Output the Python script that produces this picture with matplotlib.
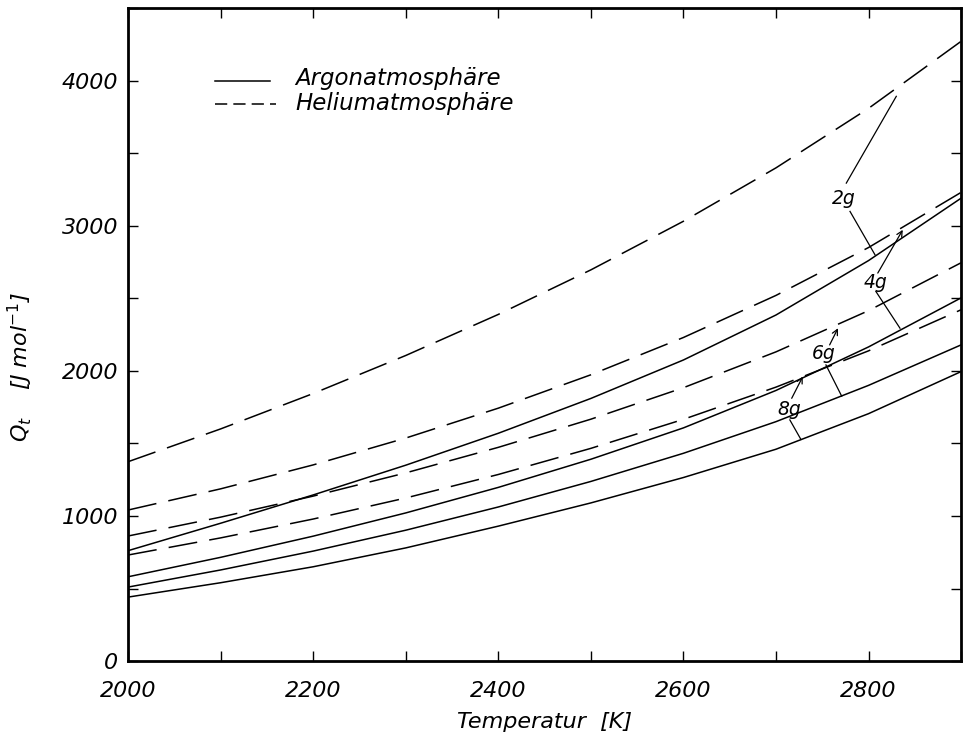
import matplotlib
matplotlib.use("Agg")
import matplotlib.pyplot as plt
from matplotlib.ticker import MultipleLocator
import numpy as np

plt.rcParams['font.family'] = ['DejaVu Sans']
plt.rcParams['mathtext.fontset'] = 'dejavusans'

# Temperature grid [K]
temperature = [2000, 2100, 2200, 2300, 2400, 2500, 2600, 2700, 2800, 2900]

# Helium atmosphere, sample masses 2 g .. 8 g  [J/mol]
he_2g = [1374, 1600, 1844, 2106, 2389, 2696, 3031, 3399, 3809, 4271]
he_4g = [1041, 1187, 1352, 1537, 1743, 1973, 2230, 2520, 2850, 3230]
he_6g = [862, 992, 1137, 1297, 1473, 1667, 1884, 2131, 2415, 2745]
he_8g = [731, 849, 979, 1124, 1286, 1466, 1666, 1888, 2138, 2421]

# Argon atmosphere
ar_2g = [761, 950, 1145, 1350, 1570, 1810, 2075, 2385, 2760, 3190]
ar_4g = [581, 715, 861, 1021, 1197, 1391, 1607, 1865, 2165, 2503]
ar_6g = [510, 628, 758, 902, 1062, 1238, 1432, 1650, 1900, 2179]
ar_8g = [441, 540, 650, 780, 930, 1090, 1265, 1460, 1705, 1995]

x_ticks = [2000, 2200, 2400, 2600, 2800]
y_ticks = [0, 1000, 2000, 3000, 4000]

fig = plt.figure(figsize=(9.63, 7.37), dpi=100)
ax = fig.add_axes([0.133, 0.103, 0.865, 0.886])

T = np.array(temperature)
lw = 1.1
dash = (0, (19, 8))
for series in (he_2g, he_4g, he_6g, he_8g):
    ax.plot(T, series, color='black', lw=lw, linestyle=dash)
for series in (ar_2g, ar_4g, ar_6g, ar_8g):
    ax.plot(T, series, color='black', lw=lw, linestyle='-')

ax.set_xlim(2000, 2900)
ax.set_ylim(0, 4500)
ax.set_xticks(x_ticks)
ax.xaxis.set_minor_locator(MultipleLocator(100))
ax.set_yticks(y_ticks)
ax.yaxis.set_minor_locator(MultipleLocator(500))

tick_font = dict(fontsize=16, fontstyle='italic')
ax.set_xticklabels([str(v) for v in x_ticks], **tick_font)
ax.set_yticklabels([str(v) for v in y_ticks], **tick_font)
ax.tick_params(which='both', direction='in', top=True, right=True,
               length=7, width=1.0)
ax.tick_params(axis='x', which='major', pad=14)
ax.tick_params(axis='y', which='major', pad=7)

for sp in ax.spines.values():
    sp.set_linewidth(2.0)

ax.set_xlabel('Temperatur  [K]', fontsize=16, fontstyle='italic', labelpad=8)
ax.set_ylabel(r'$Q_t$    [J mol$^{-1}$]', fontsize=16, fontstyle='italic')
ax.yaxis.set_label_coords(-0.112, 0.45)

# Legend key drawn in axes coordinates
tr = ax.transAxes
ax.plot([0.104, 0.170], [0.889, 0.889], color='black', lw=lw, transform=tr)
ax.plot([0.104, 0.177], [0.853, 0.853], color='black', lw=lw,
        linestyle=(0, (8, 4)), transform=tr)
leg_font = dict(fontsize=16.5, fontstyle='italic', va='center', ha='left',
                transform=tr)
ax.text(0.201, 0.892, 'Argonatmosphäre', **leg_font)
ax.text(0.201, 0.854, 'Heliumatmosphäre', **leg_font)

# Mass labels with leader lines
lab = dict(fontsize=13.5, fontstyle='italic', ha='center', va='center')
lead = dict(color='black', lw=0.9)
arrow = dict(arrowstyle='->', lw=0.9, color='black',
             shrinkA=0, shrinkB=0, mutation_scale=10)

ax.text(2773, 3186, '2g', **lab)
ax.plot([2776, 2830], [3294, 3892], **lead)
ax.plot([2780, 2807], [3099, 2800], **lead)

ax.text(2808, 2607, '4g', **lab)
ax.annotate('', xy=(2837, 2972), xytext=(2810, 2674), arrowprops=arrow)
ax.plot([2808, 2834], [2547, 2294], **lead)

ax.text(2752, 2117, '6g', **lab)
ax.annotate('', xy=(2767, 2294), xytext=(2758, 2179), arrowprops=arrow)
ax.plot([2754, 2771], [2041, 1826], **lead)

ax.text(2714, 1731, '8g', **lab)
ax.annotate('', xy=(2729, 1961), xytext=(2717, 1811), arrowprops=arrow)
ax.plot([2715, 2727], [1662, 1527], **lead)

fig.savefig('out.png', dpi=100)
